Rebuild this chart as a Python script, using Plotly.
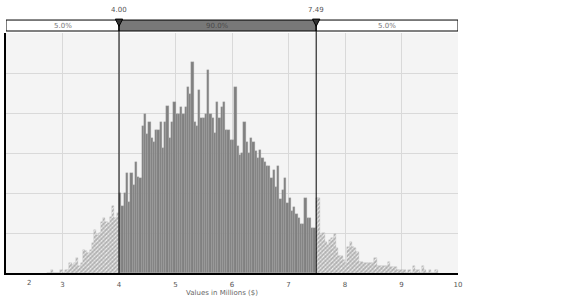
import plotly.graph_objects as go

# ---- data ----
bin_width = 0.04
left_start = 2.72
left_tail = [0, 0, 3, 0, 0, 0, 3, 0, 3, 3, 10, 8, 10, 15, 7, 10, 23, 22, 20, 23,
             30, 43, 38, 40, 51, 55, 51, 50, 56, 67, 55, 60]
middle = [80, 67, 80, 100, 71, 100, 88, 111, 96, 95, 147, 159, 139, 151, 135, 131,
          143, 143, 151, 125, 151, 167, 135, 151, 171, 159, 159, 166, 159, 166, 186,
          179, 211, 151, 147, 183, 155, 155, 159, 203, 159, 155, 140, 171, 155, 166,
          171, 143, 143, 133, 133, 186, 127, 118, 120, 151, 131, 120, 135, 131, 122,
          115, 123, 115, 111, 107, 107, 95, 103, 86, 107, 74, 83, 95, 70, 75, 62, 66,
          59, 55, 49, 49, 75, 55, 55, 45, 45]
right_tail = [75, 75, 38, 40, 31, 28, 33, 35, 39, 25, 17, 17, 13, 10, 26, 31, 26, 25,
              21, 11, 11, 10, 10, 10, 10, 10, 15, 7, 7, 7, 7, 7, 11, 6, 6, 6, 3, 3, 3,
              3, 0, 3, 0, 7, 3, 3, 0, 7, 3, 0, 3, 0, 0, 3]
p_low, p_high = 4.00, 7.49
pct_labels = ["5.0%", "90.0%", "5.0%"]
x_ticks = [3, 4, 5, 6, 7, 8, 9, 10]
x_range = [2, 10]
first_label = "2"
x_title = "Values in Millions ($)"

def centers(start, n):
    return [start + bin_width * (i + 0.5) for i in range(n)]

mid_start = left_start + bin_width * len(left_tail)
right_start = mid_start + bin_width * len(middle)

FONT = "DejaVu Sans"
fig = go.Figure()
hatch = dict(shape="/", size=3, solidity=0.6, fgcolor="#666666", bgcolor="#f4f4f4")
fig.add_trace(go.Bar(x=centers(left_start, len(left_tail)), y=left_tail, width=bin_width,
                     marker=dict(color="#f4f4f4", pattern=hatch,
                                 line=dict(color="#bdbdbd", width=0.4))))
fig.add_trace(go.Bar(x=centers(mid_start, len(middle)), y=middle, width=bin_width,
                     marker=dict(color="#808080", line=dict(color="#a4a4a4", width=0.35))))
fig.add_trace(go.Bar(x=centers(right_start, len(right_tail)), y=right_tail, width=bin_width,
                     marker=dict(color="#f4f4f4", pattern=hatch,
                                 line=dict(color="#bdbdbd", width=0.4))))

shapes = []
bar_y0, bar_y1 = 1.0083, 1.054
sections = [(x_range[0], p_low, "white"), (p_low, p_high, "#787878"), (p_high, x_range[1], "white")]
for (a, b, c) in sections:
    shapes.append(dict(type="rect", xref="x", yref="paper", x0=a, x1=b, y0=bar_y0, y1=bar_y1,
                       fillcolor=c, line=dict(color="black", width=1), layer="above"))
for p in (p_low, p_high):
    shapes.append(dict(type="line", xref="x", yref="paper", x0=p, x1=p, y0=0, y1=bar_y1,
                       line=dict(color="black", width=1), layer="above"))
    shapes.append(dict(type="path", xref="x", yref="paper",
                       path=f"M {p-0.065},{bar_y1+0.004} L {p+0.065},{bar_y1+0.004} L {p},{bar_y1-0.026} Z",
                       fillcolor="#333333", line=dict(color="black", width=1), layer="above"))

annotations = []
for (a, b, c), t in zip(sections, pct_labels):
    annotations.append(dict(x=(a + b) / 2, y=(bar_y0 + bar_y1) / 2, xref="x", yref="paper",
                            yanchor="middle", xanchor="center",
                            text=t, showarrow=False,
                            font=dict(family=FONT, size=7, color="#777" if c == "white" else "#4a4a4a")))
for p in (p_low, p_high):
    annotations.append(dict(x=p, y=1.096, xref="x", yref="paper", text=f"{p:.2f}",
                            yanchor="middle", xanchor="center",
                            showarrow=False, font=dict(family=FONT, size=7, color="#555")))
annotations.append(dict(x=2.41, y=-0.042, xref="x", yref="paper", text=first_label, showarrow=False,
                        yanchor="middle", xanchor="center",
                        font=dict(family=FONT, size=7, color="#555")))
annotations.append(dict(x=0.478, y=-0.083, xref="paper", yref="paper", text=x_title, showarrow=False,
                        yanchor="middle", xanchor="center",
                        font=dict(family=FONT, size=7, color="#666")))

fig.update_layout(
    width=563, height=306,
    margin=dict(l=6, r=105, t=33, b=33),
    paper_bgcolor="white", plot_bgcolor="#f4f4f4",
    barmode="overlay", bargap=0, showlegend=False,
    shapes=shapes, annotations=annotations,
    font=dict(family=FONT, size=7, color="#555"),
)
fig.update_xaxes(range=x_range, tickvals=x_ticks, ticktext=[str(v) for v in x_ticks],
                 showgrid=True, gridcolor="#d9d9d9", gridwidth=1, zeroline=False,
                 showline=True, linecolor="black", linewidth=1.5, ticks="",
                 ticklabelstandoff=4,
                 tickfont=dict(family=FONT, size=7, color="#555"))
fig.update_yaxes(range=[0, 240], dtick=40, showticklabels=False, showgrid=True,
                 gridcolor="#d9d9d9", gridwidth=1, zeroline=False,
                 showline=True, linecolor="black", linewidth=1.5, ticks="")

fig.write_html("out.html")
